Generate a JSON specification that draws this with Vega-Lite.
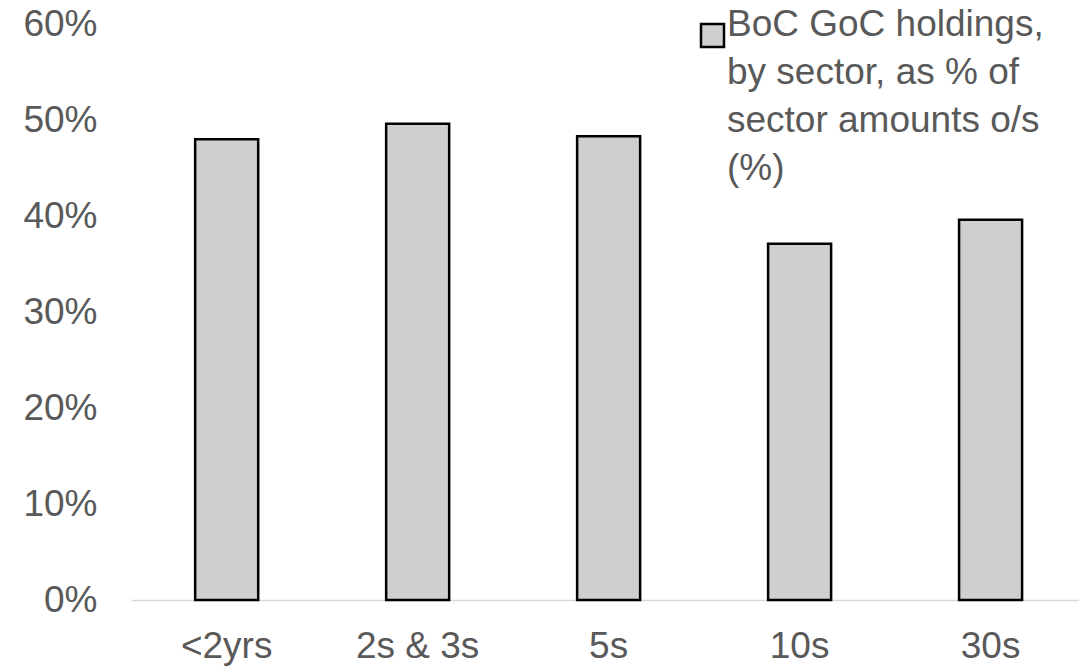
{
  "$schema": "https://vega.github.io/schema/vega-lite/v6.json",
  "width": 948,
  "height": 576,
  "autosize": {"type": "none"},
  "padding": {"left": 131, "top": 24, "right": 0, "bottom": 66},
  "background": "white",
  "data": {
    "values": [
      {"sector": "<2yrs", "value": 0.480, "series": "BoC GoC holdings, by sector, as % of sector amounts o/s (%)"},
      {"sector": "2s & 3s", "value": 0.496, "series": "BoC GoC holdings, by sector, as % of sector amounts o/s (%)"},
      {"sector": "5s", "value": 0.483, "series": "BoC GoC holdings, by sector, as % of sector amounts o/s (%)"},
      {"sector": "10s", "value": 0.371, "series": "BoC GoC holdings, by sector, as % of sector amounts o/s (%)"},
      {"sector": "30s", "value": 0.396, "series": "BoC GoC holdings, by sector, as % of sector amounts o/s (%)"}
    ]
  },
  "mark": {"type": "bar", "stroke": "black", "strokeWidth": 2.5},
  "encoding": {
    "x": {
      "field": "sector",
      "type": "nominal",
      "sort": null,
      "scale": {"paddingInner": 0.67, "paddingOuter": 0.317, "align": 0.53},
      "axis": {
        "title": null,
        "labelAngle": 0,
        "ticks": false,
        "tickSize": 0,
        "labelPadding": 28,
        "labelFont": "Liberation Sans",
        "labelFontSize": 37,
        "labelColor": "#595959",
        "domainColor": "#d9d9d9",
        "domainWidth": 1.5,
        "grid": false
      }
    },
    "y": {
      "field": "value",
      "type": "quantitative",
      "scale": {"domain": [0, 0.6], "nice": false},
      "axis": {
        "title": null,
        "format": ".0%",
        "values": [0, 0.1, 0.2, 0.3, 0.4, 0.5, 0.6],
        "grid": false,
        "domain": false,
        "ticks": false,
        "tickSize": 0,
        "labelPadding": 34,
        "labelFont": "Liberation Sans",
        "labelFontSize": 37,
        "labelColor": "#595959"
      }
    },
    "fill": {
      "field": "series",
      "type": "nominal",
      "scale": {"range": ["#d0cece"]},
      "legend": {
        "title": null,
        "orient": "none",
        "legendX": 563,
        "legendY": -7,
        "padding": 0,
        "symbolType": "square",
        "symbolSize": 529,
        "symbolStrokeColor": "black",
        "symbolStrokeWidth": 2.5,
        "symbolFillColor": "#d0cece",
        "labelExpr": "['BoC GoC holdings,', 'by sector, as % of', 'sector amounts o/s', '(%)']",
        "labelBaseline": "alphabetic",
        "labelFont": "Liberation Sans",
        "labelFontSize": 37,
        "labelColor": "#595959",
        "labelLimit": 500,
        "labelOffset": -4
      }
    }
  },
  "config": {
    "view": {"stroke": null},
    "style": {"guide-label": {"lineHeight": 48}}
  }
}
